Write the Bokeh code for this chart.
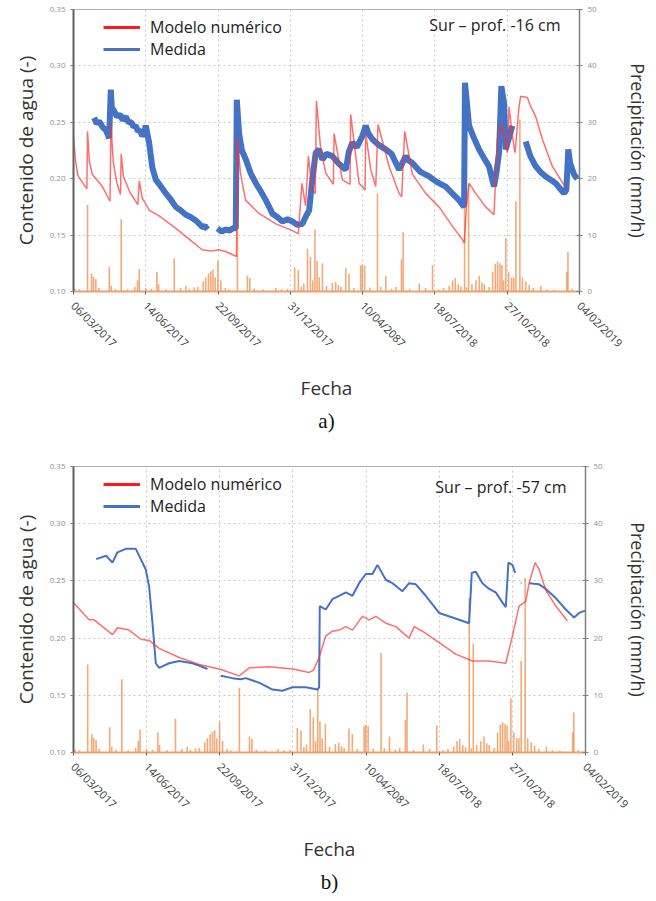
import math
from bokeh.plotting import figure
from bokeh.models import (Range1d, LinearAxis, FixedTicker, NumeralTickFormatter,
                          Legend, LegendItem, Label, Title)
from bokeh.layouts import column
from bokeh.embed import file_html
from bokeh.resources import INLINE

NaN = float("nan")

# x = days since 06/03/2017
tick_days = [0, 100, 200, 300, 400, 500, 600, 700]
tick_labels = ["06/03/2017", "14/06/2017", "22/09/2017", "31/12/2017",
               "10/04/2087", "18/07/2018", "27/10/2018", "04/02/2019"]
left_ticks = [0.10, 0.15, 0.20, 0.25, 0.30, 0.35]
right_ticks = [0, 10, 20, 30, 40, 50]

# precipitation (day, mm/h)
precip = [(2, 0.5), (8, 0.4), (19.4, 15.4), (25, 3.2), (27.6, 2.6), (30.9, 2.2), (35, 0.6),
          (49.5, 4.4), (52.3, 1.0), (58, 0.5), (66, 12.8), (75, 0.4), (85, 0.8), (88.6, 2.0),
          (91, 4.0), (100, 0.6), (108, 0.5), (115.4, 3.5), (117.7, 1.3), (128, 0.4),
          (139.4, 5.9), (148, 0.6), (155.5, 1.0), (160, 0.5), (167, 0.7), (172, 0.8),
          (179.5, 1.8), (183, 2.5), (186.8, 3.2), (190, 3.6), (193, 3.9), (196, 2.5),
          (199.7, 5.4), (203.8, 2.0), (210, 0.6), (215, 0.4), (226.8, 11.3), (240.6, 2.8),
          (243.9, 2.4), (250, 0.5), (262, 0.4), (279.8, 0.6), (288, 0.4), (296, 0.5),
          (306, 4.3), (311, 3.8), (315, 0.9), (318.6, 1.4), (323.7, 7.6), (327.8, 6.1),
          (331, 2.0), (334, 11.0), (337, 5.4), (340, 2.5), (344.4, 5.0), (350, 1.0),
          (358, 1.5), (362.7, 1.7), (366.4, 1.1), (370, 0.8), (376.6, 4.2), (381.2, 3.2),
          (388, 0.6), (397.3, 4.6), (399.6, 4.8), (402.8, 4.6), (410, 0.7), (420.5, 17.4),
          (425, 0.8), (432, 2.8), (440, 0.5), (446, 0.8), (453.7, 5.7), (456, 10.5),
          (465, 0.5), (478.3, 1.4), (487, 0.6), (496.7, 4.7), (505, 0.4), (512, 0.6),
          (519.8, 1.0), (524.4, 2.0), (528, 2.4), (532.3, 1.3), (536, 0.9), (541, 27.0),
          (543.8, 0.7), (546.6, 19.0), (551.2, 1.3), (556.7, 2.0), (561.3, 2.8), (565, 1.6),
          (568.3, 1.3), (575, 0.8), (579.8, 3.5), (583.5, 4.9), (586.7, 5.3), (590, 5.0),
          (592.7, 4.7), (595, 2.0), (598, 9.5), (602, 3.5), (606, 2.5), (609, 2.5),
          (612, 16.0), (617.5, 30.5), (621, 2.5), (625.8, 1.8), (630.4, 1.2), (636, 0.6),
          (646.5, 1.0), (655, 0.4), (665, 0.3), (682.5, 3.5), (684, 7.0), (690, 0.5)]
precip_day = [d for d, _ in precip]
precip_mm = [m for _, m in precip]

# panel a) Sur -16 cm
a_model_day = [0, 3, 6, 12, 18.5, 19.4, 22, 26, 40, 50.5, 51.8, 55, 60, 65, 66, 69, 78, 89, 91,
               95, 105, 118.5, 141.5, 164.6, 178, 190, 201.5, 212, 225.5, 226.5, 231, 238, 257,
               280, 303, 311, 316, 321, 325, 330, 334.5, 336, 342, 349, 359.5, 360.5, 372,
               382.5, 383.5, 395, 403.3, 404.3, 411.2, 418.1, 421.3, 436.5, 450.4, 454, 458.2,
               468.8, 487.2, 505.7, 524.1, 537.9, 540.7, 543.5, 547.2, 556.4, 570.2, 581.7,
               586.4, 591, 595.6, 600.2, 602.5, 607.1, 610.8, 614, 616.3, 618.6, 627.8, 632.5,
               639.4, 648.6, 662.4, 680.9]
a_model_val = [0.237, 0.215, 0.203, 0.197, 0.191, 0.242, 0.215, 0.204, 0.193, 0.180, 0.248,
               0.215, 0.196, 0.186, 0.222, 0.202, 0.188, 0.177, 0.198, 0.183, 0.172, 0.167,
               0.156, 0.144, 0.137, 0.136, 0.137, 0.135, 0.131, 0.236, 0.205, 0.181, 0.169,
               0.160, 0.154, 0.151, 0.196, 0.176, 0.220, 0.190, 0.187, 0.269, 0.226, 0.205,
               0.195, 0.240, 0.199, 0.195, 0.257, 0.196, 0.190, 0.240, 0.208, 0.193, 0.248,
               0.211, 0.187, 0.184, 0.242, 0.204, 0.187, 0.175, 0.158, 0.146, 0.143, 0.175,
               0.196, 0.187, 0.175, 0.168, 0.235, 0.248, 0.238, 0.223, 0.264, 0.238, 0.223,
               0.246, 0.264, 0.273, 0.272, 0.264, 0.255, 0.235, 0.211, 0.192]
a_meas_day = [28.6, 32, 35.5, 40, 44.7, 47, 49.3, 51.6, 53, 56.2, 60, 64, 68, 72.4, 76, 80, 83,
              86.2, 89, 92, 95, 97.7, 100, 104.6, 109, 113.9, 120, 127.7, 134, 141.5, 148,
              155.4, 162, 169.2, 174, 178.4, 182, 185.3, NaN,
              199.2, 205, 210, 216, 220, 224.5, 225.9, 229.1, 233, 238.4, 245, 252.2, 258,
              266, 270, 275.2, 282, 289, 296, 302.9, 310, 316.7, 321, 326, 330.5, 335.1,
              339.7, 344.3, 350, 358.2, 366, 376.6, 381, 385.8, 392, 399.7, 404.3, 408,
              413.5, 422, 431.9, 440, 450.4, 455, 459.6, 464, 468.8, 480, 491.9, 503, 514.9,
              524, 533.3, 540.3, 541.6, 547.2, 554, 561, 568, 574.8, 581.7, 585, 588.7, 591.9,
              595.6, 597.9, 602, 607.1, NaN,
              625.5, 632, 639.4, 646, 653.2, 660, 667, 672, 678.6, 681.8, 684.5, 687, 690.1,
              693, 697]
a_meas_val = [0.254, 0.249, 0.251, 0.246, 0.243, 0.240, 0.236, 0.279, 0.263, 0.260, 0.255,
              0.257, 0.252, 0.255, 0.250, 0.250, 0.246, 0.247, 0.242, 0.243, 0.238, 0.240,
              0.247, 0.232, 0.210, 0.199, 0.194, 0.187, 0.182, 0.175, 0.172, 0.168, 0.166,
              0.163, 0.160, 0.157, 0.158, 0.155, NaN,
              0.156, 0.153, 0.155, 0.154, 0.156, 0.156, 0.270, 0.240, 0.225, 0.217, 0.205,
              0.196, 0.190, 0.181, 0.176, 0.169, 0.166, 0.162, 0.164, 0.162, 0.159, 0.160,
              0.166, 0.172, 0.200, 0.223, 0.226, 0.217, 0.222, 0.220, 0.214, 0.208, 0.224,
              0.232, 0.228, 0.238, 0.247, 0.240, 0.235, 0.230, 0.226, 0.222, 0.208, 0.214,
              0.220, 0.216, 0.214, 0.206, 0.202, 0.197, 0.193, 0.187, 0.181, 0.175, 0.285,
              0.247, 0.236, 0.226, 0.218, 0.211, 0.193, 0.205, 0.223, 0.282, 0.267, 0.226,
              0.235, 0.247, NaN,
              0.233, 0.220, 0.211, 0.206, 0.202, 0.199, 0.196, 0.192, 0.187, 0.190, 0.226,
              0.214, 0.208, 0.203, 0.200]

# panel b) Sur -57 cm
b_model_day = [0, 21.4, 28.2, 39.6, 53.3, 60.1, 76.1, 92, 103.5, 117.1, 144.5, 171.8, 199.2,
               226.6, 240.3, 267.6, 299.5, 322.3, 328, 335.8, 344.9, 354, 363.2, 372.3, 381.4,
               395, 404.2, 413.3, 427, 440.6, 458.9, 465.7, 477.1, 499.9, 522.6, 545.4, 568.2,
               591, 600.1, 609.2, 618.3, 622.9, 631.1, 636.6, 645.7, 659.4, 675.3]
b_model_val = [0.231, 0.216, 0.216, 0.210, 0.203, 0.209, 0.207, 0.199, 0.198, 0.191, 0.183,
               0.177, 0.173, 0.167, 0.174, 0.175, 0.173, 0.170, 0.172, 0.183, 0.202, 0.206,
               0.207, 0.210, 0.207, 0.219, 0.216, 0.219, 0.213, 0.210, 0.200, 0.210, 0.206,
               0.196, 0.186, 0.180, 0.180, 0.178, 0.202, 0.228, 0.232, 0.248, 0.266, 0.260,
               0.242, 0.228, 0.215]
b_meas_day = [31, 44.6, 53.3, 60.1, 71.5, 85.2, 92, 98.8, 103.4, 108, 112.5, 117.1, 130.7,
              144.4, 162.6, 171.7, 183.1, NaN,
              201.3, 217.3, 228.7, 235.5, 253.8, 272, 285.6, 299.3, 317.5, 333.5, 335.8, 336.7,
              344.9, 354, 363.2, 372.3, 381.4, 390.5, 399.6, 408.7, 415.6, 427, 436.1, 449.7,
              458.9, 468, 481.6, 499.9, 518.1, 540.9, 544.5, 550, 559.1, 568.2, 577.3, 586.5,
              591, 594.6, 600.1, 603.8, NaN,
              611.5, 612.5, NaN,
              622.9, 636.6, 645.7, 659.4, 673, 684.4, 691.3, 699.5]
b_meas_val = [0.269, 0.272, 0.266, 0.275, 0.278, 0.278, 0.269, 0.260, 0.245, 0.213, 0.178,
              0.174, 0.178, 0.180, 0.178, 0.176, 0.173, NaN,
              0.167, 0.165, 0.164, 0.165, 0.161, 0.155, 0.154, 0.157, 0.157, 0.155, 0.157,
              0.228, 0.225, 0.234, 0.237, 0.240, 0.237, 0.248, 0.256, 0.256, 0.264, 0.251,
              0.248, 0.241, 0.248, 0.247, 0.237, 0.222, 0.218, 0.213, 0.257, 0.258, 0.248,
              0.243, 0.240, 0.231, 0.227, 0.266, 0.264, 0.257, NaN,
              0.248, 0.248, NaN,
              0.248, 0.247, 0.243, 0.235, 0.225, 0.218, 0.222, 0.224]

FONT = "Open Sans"
RED = "#ff3030"
BLUE = "#4472c4"
ORANGE = "#ed7d31"


def make_panel(model_day, model_val, meas_day, meas_val, meas_width, meas_alpha,
               depth_text, caption, fw, fh, border_top, depth_dy, right_standoff):
    p = figure(frame_width=fw, frame_height=fh, x_range=Range1d(0, 700),
               y_range=Range1d(0.10, 0.35), output_backend="svg", toolbar_location=None,
               min_border_left=73, min_border_right=640 - 73 - fw, min_border_top=border_top,
               min_border_bottom=0)
    p.extra_y_ranges = {"precip": Range1d(0, 50)}
    p.outline_line_color = "#b0b0b0"
    p.outline_line_width = 1
    p.background_fill_color = "white"

    # x axis
    xa = p.xaxis[0]
    xa.ticker = FixedTicker(ticks=tick_days)
    xa.major_label_overrides = {d: lab for d, lab in zip(tick_days, tick_labels)}
    xa.major_label_orientation = -math.pi / 4
    xa.major_label_text_font = FONT
    xa.major_label_text_font_size = "11px"
    xa.major_label_text_color = "#404040"
    xa.major_label_standoff = 9
    xa.axis_line_color = "#f0a070"
    xa.axis_line_width = 2
    xa.major_tick_line_color = "#606060"
    xa.major_tick_out = 3
    xa.major_tick_in = 0
    xa.minor_tick_line_color = None
    xa.axis_label = "Fecha"
    xa.axis_label_text_font = FONT
    xa.axis_label_text_font_size = "19px"
    xa.axis_label_text_font_style = "normal"
    xa.axis_label_text_color = "#333333"
    xa.axis_label_standoff = 17

    # left axis
    ya = p.yaxis[0]
    ya.ticker = FixedTicker(ticks=left_ticks)
    ya.formatter = NumeralTickFormatter(format="0.00")
    ya.major_label_text_font = FONT
    ya.major_label_text_font_size = "8px"
    ya.major_label_text_color = "#909090"
    ya.axis_line_color = "#606060"
    ya.axis_line_width = 2
    ya.major_tick_line_color = "#808080"
    ya.major_tick_out = 3
    ya.major_tick_in = 0
    ya.minor_tick_line_color = None
    ya.axis_label = "Contenido de agua (-)"
    ya.axis_label_text_font = FONT
    ya.axis_label_text_font_size = "19px"
    ya.axis_label_text_font_style = "normal"
    ya.axis_label_text_color = "#333333"
    ya.axis_label_standoff = 8

    # right axis
    ra = LinearAxis(y_range_name="precip", ticker=FixedTicker(ticks=right_ticks))
    ra.major_label_text_font = FONT
    ra.major_label_text_font_size = "8px"
    ra.major_label_text_color = "#909090"
    ra.axis_line_color = "#808080"
    ra.axis_line_width = 1.5
    ra.major_tick_line_color = "#808080"
    ra.major_tick_out = 3
    ra.major_tick_in = 3
    ra.minor_tick_line_color = None
    ra.axis_label = "Precipitación (mm/h)"
    ra.axis_label_text_font = FONT
    ra.axis_label_text_font_size = "18px"
    ra.axis_label_text_font_style = "normal"
    ra.axis_label_text_color = "#333333"
    ra.axis_label_standoff = right_standoff
    p.add_layout(ra, "right")

    # grids
    p.xgrid.ticker = FixedTicker(ticks=tick_days)
    p.ygrid.ticker = FixedTicker(ticks=left_ticks)
    for g in (p.xgrid, p.ygrid):
        g.grid_line_color = "#c8c8c8"
        g.grid_line_dash = "2 3"
        g.grid_line_width = 1

    # precipitation bars
    p.segment(x0=precip_day, y0=[0] * len(precip_day), x1=precip_day, y1=precip_mm,
              y_range_name="precip", line_color=ORANGE, line_alpha=0.65, line_width=1.6)

    p.line(meas_day, meas_val, line_color=BLUE, line_width=meas_width, line_alpha=meas_alpha)
    p.line(model_day, model_val, line_color=RED, line_width=1.5, line_alpha=0.7)

    # legend proxies (opaque)
    lg_model = p.line([NaN], [NaN], line_color="#ff1a1a", line_width=3)
    lg_meas = p.line([NaN], [NaN], line_color=BLUE, line_width=3)
    legend = Legend(items=[LegendItem(label="Modelo numérico", renderers=[lg_model]),
                           LegendItem(label="Medida", renderers=[lg_meas])],
                    location=(30, fh - 51), orientation="vertical",
                    border_line_color=None, background_fill_alpha=0, padding=4, margin=0,
                    spacing=0, glyph_width=37, glyph_height=20, label_height=20,
                    label_standoff=10, label_text_font=FONT, label_text_font_size="16px",
                    label_text_color="#222222")
    p.add_layout(legend, "center")

    p.add_layout(Label(x=fw - 19, y=fh - depth_dy, x_units="screen", y_units="screen",
                       text=depth_text, text_align="right", text_baseline="middle",
                       text_font=FONT, text_font_size="16px", text_color="#222222"))

    p.add_layout(Title(text=caption, align="center", text_font="Liberation Serif",
                       text_font_size="21px", text_font_style="normal",
                       text_color="#111111", standoff=4), "below")
    return p


pa = make_panel(a_model_day, a_model_val, a_meas_day, a_meas_val, 6, 1.0,
                "Sur – prof. -16 cm", "a)", 506, 282, 9, 15, 26)
pb = make_panel(b_model_day, b_model_val, b_meas_day, b_meas_val, 2, 1.0,
                "Sur – prof. -57 cm", "b)", 512, 286, 32, 20, 20)

layout = column(pa, pb, spacing=0)
open("out.html", "w").write(file_html(layout, INLINE))
